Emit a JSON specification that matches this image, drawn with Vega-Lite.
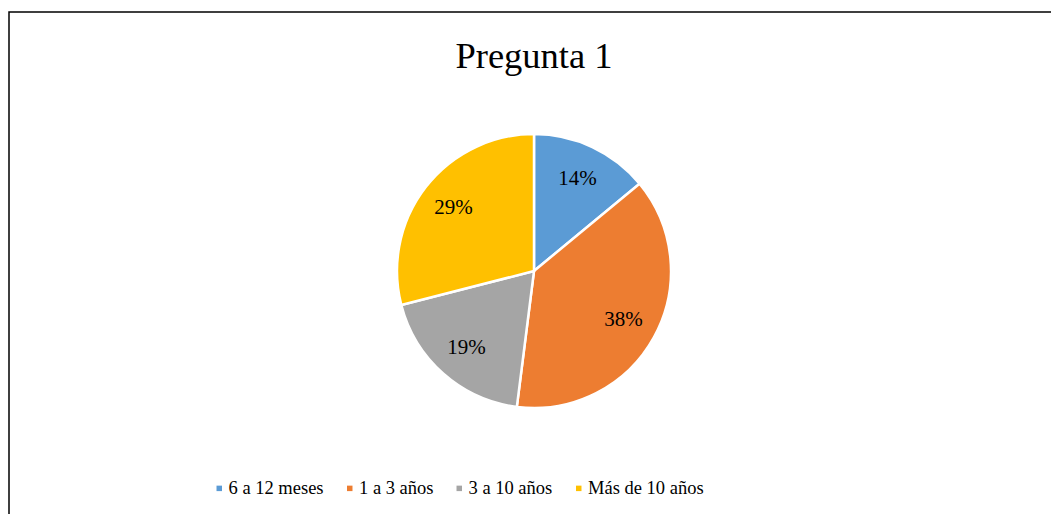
{
  "$schema": "https://vega.github.io/schema/vega-lite/v6.json",
  "autosize": "none",
  "width": 1050,
  "height": 518,
  "padding": {"left": 9, "top": 12, "right": 0, "bottom": 0},
  "background": "white",
  "view": {"stroke": "black", "strokeWidth": 1.5, "fill": "white"},
  "config": {
    "view": {"stroke": "black", "strokeWidth": 1.5},
    "font": "Liberation Serif"
  },
  "title": {
    "text": "Pregunta 1",
    "orient": "top",
    "anchor": "middle",
    "offset": -55,
    "dy": 37,
    "baseline": "alphabetic",
    "font": "Liberation Serif",
    "fontSize": 36.5,
    "fontWeight": "normal",
    "color": "black"
  },
  "data": {
    "values": [
      {"categoria": "6 a 12 meses", "pct": 0.14, "orden": 1},
      {"categoria": "1 a 3 años", "pct": 0.38, "orden": 2},
      {"categoria": "3 a 10 años", "pct": 0.19, "orden": 3},
      {"categoria": "Más de 10 años", "pct": 0.29, "orden": 4}
    ]
  },
  "encoding": {
    "theta": {"field": "pct", "type": "quantitative", "stack": true},
    "order": {"field": "orden", "type": "quantitative"},
    "color": {
      "field": "categoria",
      "type": "nominal",
      "sort": ["6 a 12 meses", "1 a 3 años", "3 a 10 años", "Más de 10 años"],
      "scale": {
        "domain": ["6 a 12 meses", "1 a 3 años", "3 a 10 años", "Más de 10 años"],
        "range": ["#5B9BD5", "#ED7D31", "#A5A5A5", "#FFC000"]
      },
      "legend": {
        "orient": "none",
        "legendX": 201,
        "legendY": 467,
        "direction": "horizontal",
        "title": null,
        "symbolType": "square",
        "symbolSize": 30,
        "symbolStrokeWidth": 0,
        "labelFont": "Liberation Serif",
        "labelFontSize": 18.5,
        "labelColor": "black",
        "labelOffset": 0,
        "columnPadding": 16.5,
        "labelLimit": 300
      }
    }
  },
  "layer": [
    {
      "mark": {"type": "arc", "outerRadius": 137, "stroke": "white", "strokeWidth": 2.5}
    },
    {
      "mark": {"type": "text", "radius": 102, "font": "Liberation Serif", "fontSize": 21, "color": "black"},
      "encoding": {
        "text": {"field": "pct", "type": "quantitative", "format": ".0%"},
        "color": {"value": "black"}
      }
    }
  ]
}
